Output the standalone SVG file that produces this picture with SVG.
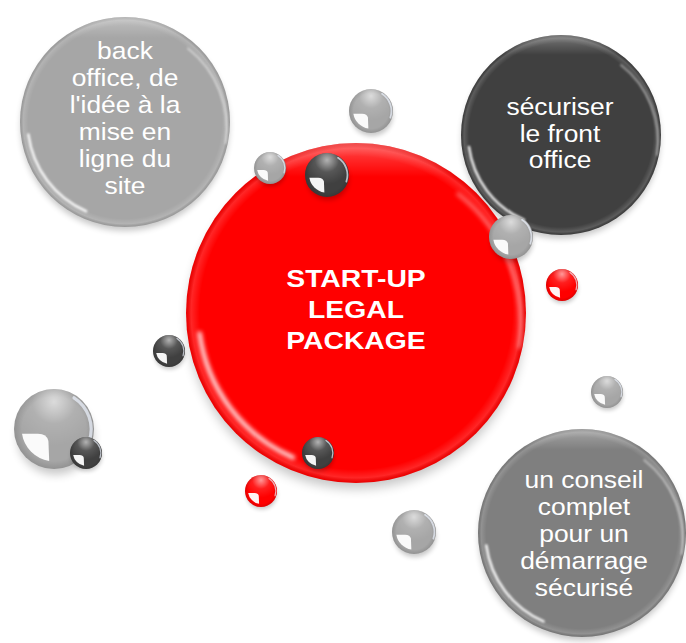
<svg xmlns="http://www.w3.org/2000/svg" width="686" height="643" viewBox="0 0 686 643">
<style>
.lbl{font-family:"Liberation Sans",Arial,sans-serif;font-size:24px;fill:#ffffff;text-anchor:middle}
.bold{font-weight:bold}
</style>
<defs>
<filter id="blurS" x="-50%" y="-50%" width="200%" height="200%"><feGaussianBlur stdDeviation="0.12"/></filter>
<filter id="blurB" x="-20%" y="-20%" width="140%" height="140%"><feGaussianBlur stdDeviation="0.03"/></filter>
<filter id="blurG" x="-50%" y="-50%" width="200%" height="200%"><feGaussianBlur stdDeviation="0.012"/></filter>
<radialGradient id="shine" cx="0.5" cy="0.16" r="0.55">
<stop offset="0" stop-color="#fff" stop-opacity="0.6"/>
<stop offset="0.5" stop-color="#fff" stop-opacity="0.12"/>
<stop offset="1" stop-color="#fff" stop-opacity="0"/>
</radialGradient>
<radialGradient id="rim" cx="0.5" cy="0.5" r="0.5">
<stop offset="0.8" stop-color="#000" stop-opacity="0"/>
<stop offset="1" stop-color="#000" stop-opacity="0.12"/>
</radialGradient>
<radialGradient id="bigRim" cx="0.5" cy="0.5" r="0.5">
<stop offset="0" stop-color="#fff" stop-opacity="0"/>
<stop offset="0.92" stop-color="#fff" stop-opacity="0"/>
<stop offset="0.97" stop-color="#fff" stop-opacity="0.15"/>
<stop offset="1" stop-color="#000" stop-opacity="0.08"/>
</radialGradient>
<linearGradient id="bigTop" x1="0" y1="0" x2="0" y2="1">
<stop offset="0" stop-color="#fff" stop-opacity="0.3"/>
<stop offset="0.1" stop-color="#fff" stop-opacity="0"/>
</linearGradient>
<g id="ball">
<ellipse cx="0.04" cy="0.22" rx="0.95" ry="0.92" fill="#000" opacity="0.22" filter="url(#blurS)"/>
<circle r="1" fill="currentColor"/>
<circle r="1" fill="url(#rim)"/>
<circle r="1" fill="url(#shine)"/>
<path d="M 0.5 -0.78 A 0.93 0.93 0 0 1 0.88 0.3" fill="none" stroke="#eef4ff" stroke-width="0.08" stroke-linecap="round" opacity="0.7" filter="url(#blurG)"/>
<path d="M -0.8 0.12 A 0.82 0.82 0 0 0 -0.12 0.8 L -0.14 0.3 Q -0.18 0.12 -0.4 0.12 Z" fill="#fff" opacity="0.95" filter="url(#blurG)"/>
</g>
<g id="big">
<ellipse cx="0" cy="0.045" rx="0.99" ry="0.99" fill="#000" opacity="0.22" filter="url(#blurB)"/>
<circle r="1" fill="currentColor"/>
<circle r="1" fill="url(#bigRim)"/>
<circle r="1" fill="url(#bigTop)"/>
<path d="M -0.37 0.85 A 0.93 0.93 0 0 1 -0.92 0.12" fill="none" stroke="#fff" stroke-width="0.025" stroke-linecap="round" opacity="0.9" filter="url(#blurG)"/>
<path d="M 0.6 -0.7 A 0.97 0.97 0 0 1 0.96 0.2" fill="none" stroke="#fff" stroke-width="0.02" stroke-linecap="round" opacity="0.45" filter="url(#blurG)"/>
</g>
</defs>
<rect width="686" height="643" fill="#ffffff"/>
<g id="connectors"/>
<g id="node-backoffice">
<use href="#big" transform="translate(125 122) scale(105)" style="color:#a6a6a6"/>
<g transform="translate(125 0) scale(1.1 1)">
<text class="lbl" x="0" y="59">back</text>
<text class="lbl" x="0" y="86">office, de</text>
<text class="lbl" x="0" y="113">l'idée à la</text>
<text class="lbl" x="0" y="140">mise en</text>
<text class="lbl" x="0" y="167">ligne du</text>
<text class="lbl" x="0" y="194">site</text>
</g>
</g>
<g id="node-frontoffice">
<use href="#big" transform="translate(561 135) scale(100)" style="color:#404040"/>
<g transform="translate(560 0) scale(1.1 1)">
<text class="lbl" x="0" y="115">sécuriser</text>
<text class="lbl" x="0" y="142">le front</text>
<text class="lbl" x="0" y="168">office</text>
</g>
</g>
<g id="node-conseil">
<use href="#big" transform="translate(582 533) scale(104)" style="color:#7f7f7f"/>
<g transform="translate(584 0) scale(1.1 1)">
<text class="lbl" x="0" y="488">un conseil</text>
<text class="lbl" x="0" y="515">complet</text>
<text class="lbl" x="0" y="542">pour un</text>
<text class="lbl" x="0" y="569">démarrage</text>
<text class="lbl" x="0" y="596">sécurisé</text>
</g>
</g>
<g id="node-center">
<use href="#big" transform="translate(356 313) scale(170)" style="color:#ff0000"/>
<g transform="translate(356 0) scale(1.18 1)">
<text class="lbl bold" x="0" y="287">START-UP</text>
<text class="lbl bold" x="0" y="318">LEGAL</text>
<text class="lbl bold" x="0" y="349">PACKAGE</text>
</g>
</g>
<g id="decor">
<use href="#ball" transform="translate(371 111) scale(22)" style="color:#a6a6a6"/>
<use href="#ball" transform="translate(270 168) scale(16)" style="color:#a6a6a6"/>
<use href="#ball" transform="translate(327 175) scale(22)" style="color:#404040"/>
<use href="#ball" transform="translate(511 237) scale(22)" style="color:#a6a6a6"/>
<use href="#ball" transform="translate(562 285) scale(16)" style="color:#ff0000"/>
<use href="#ball" transform="translate(169 351) scale(16)" style="color:#404040"/>
<use href="#ball" transform="translate(54 429) scale(40)" style="color:#a6a6a6"/>
<use href="#ball" transform="translate(86 453) scale(16)" style="color:#404040"/>
<use href="#ball" transform="translate(318 453) scale(16)" style="color:#404040"/>
<use href="#ball" transform="translate(261 491) scale(16)" style="color:#ff0000"/>
<use href="#ball" transform="translate(607 392) scale(16)" style="color:#a6a6a6"/>
<use href="#ball" transform="translate(414 532) scale(22)" style="color:#a6a6a6"/>
</g>
</svg>
